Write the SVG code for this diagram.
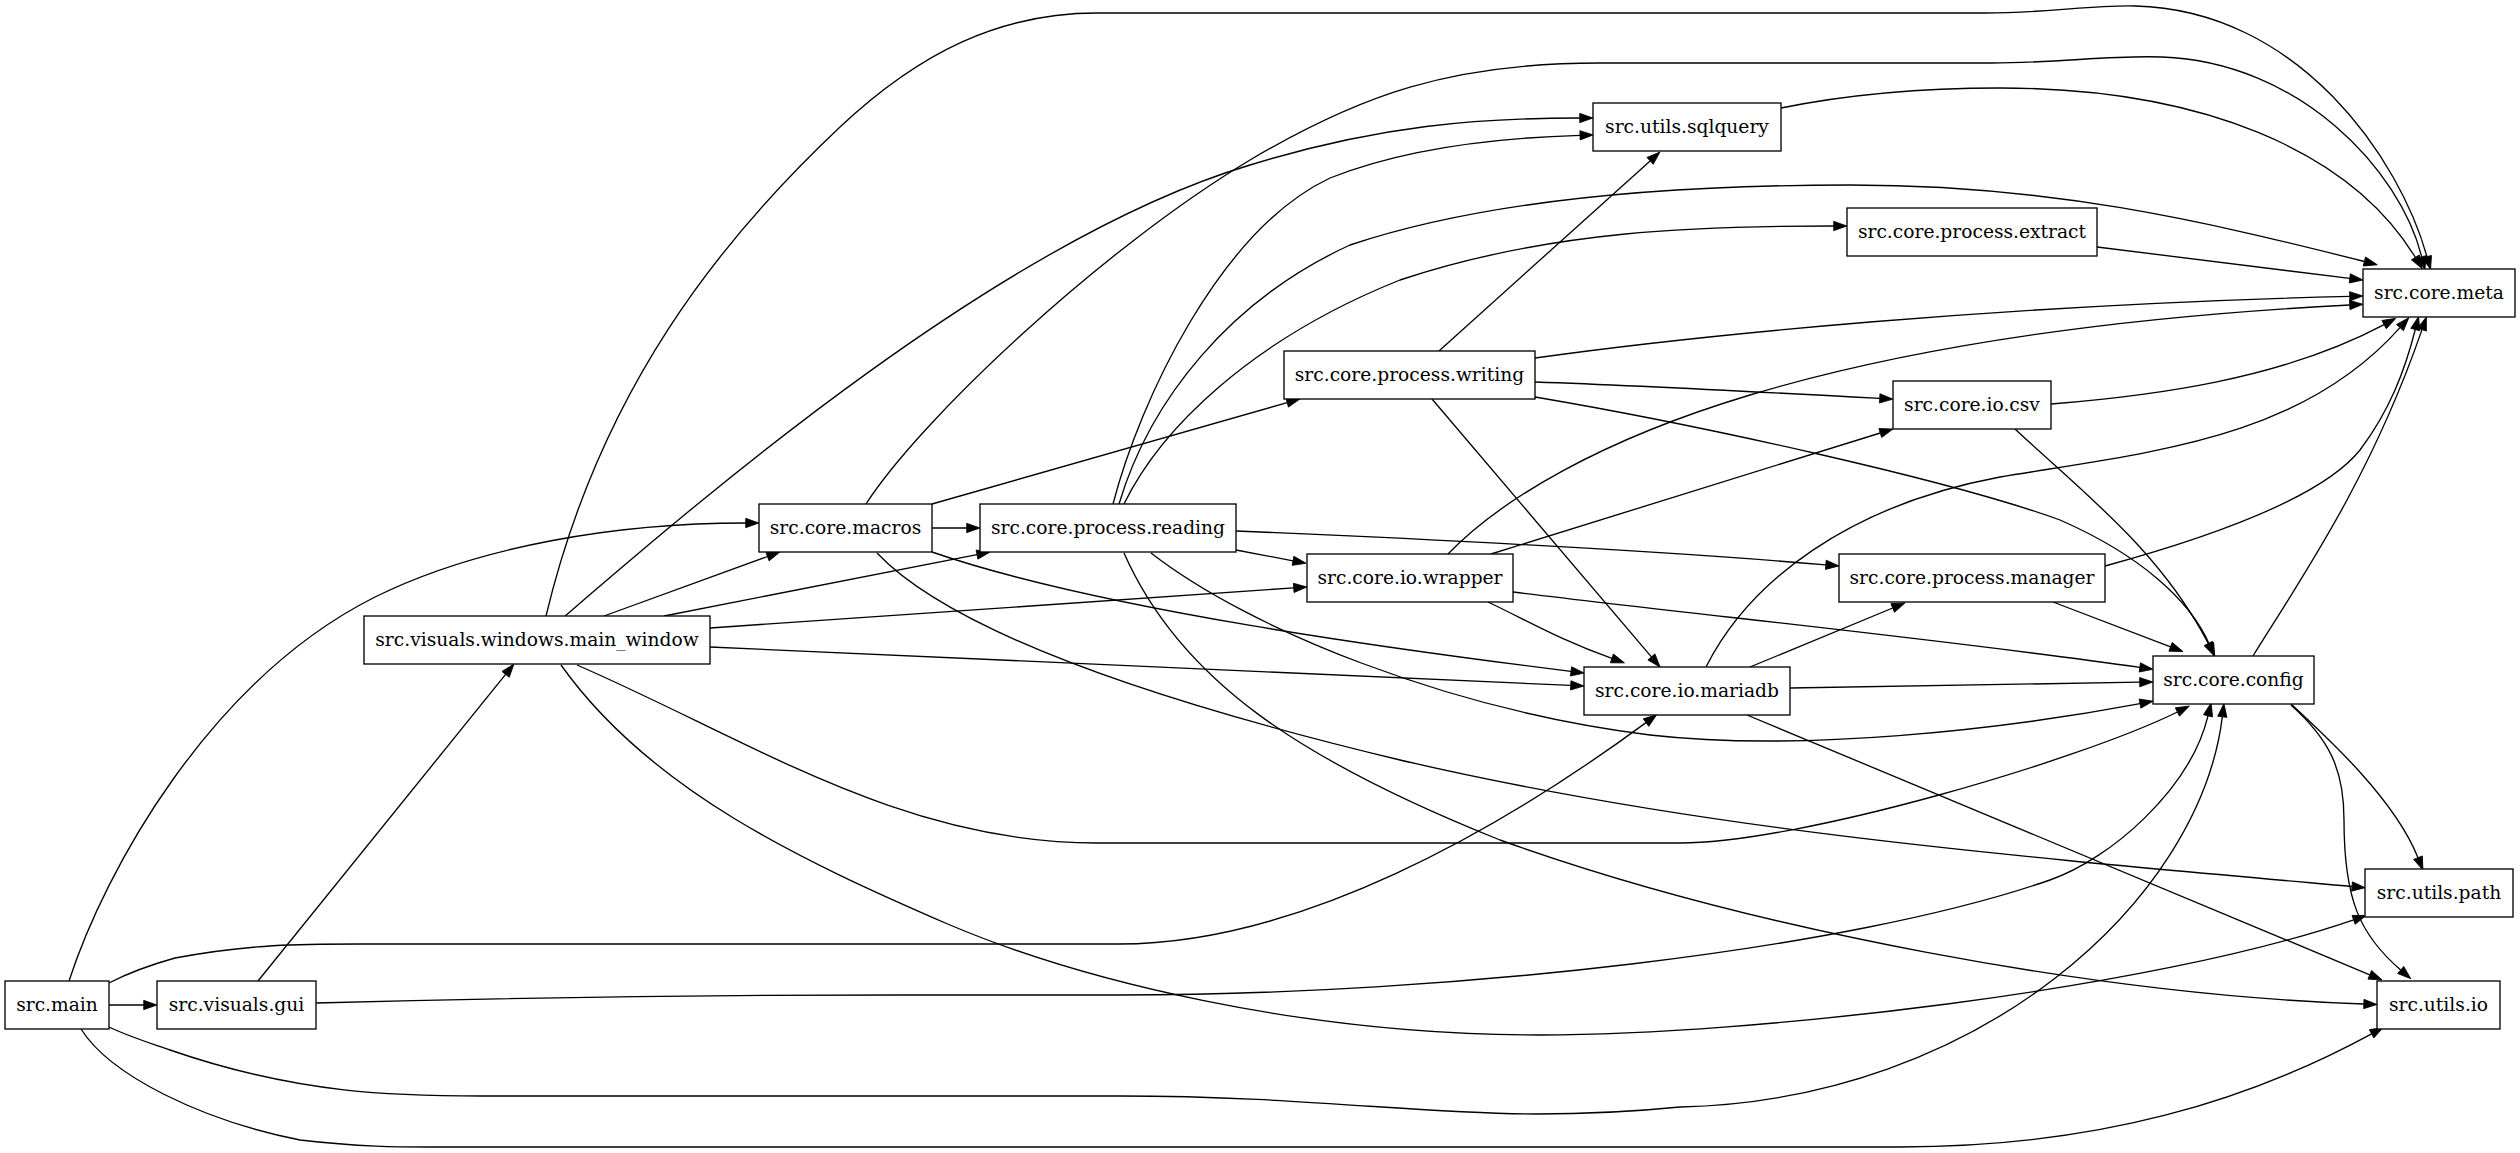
<svg xmlns="http://www.w3.org/2000/svg" width="2520" height="1153" viewBox="0 0 2520 1153">
<style>
.n rect{fill:#fff;stroke:#000;stroke-width:1.33}
.n text{font-family:"DejaVu Serif",serif;font-size:18.67px;text-anchor:middle;fill:#000}
#edges path{fill:none;stroke:#000;stroke-width:1.33;marker-end:url(#ah)}
</style>
<defs>
<marker id="ah" viewBox="0 0 10 7" refX="0" refY="3.5" markerWidth="10" markerHeight="7" markerUnits="strokeWidth" orient="auto" overflow="visible">
<path d="M0,0 L10,3.5 L0,7 z" fill="#000" stroke="#000" stroke-width="0.6"/>
</marker>
</defs>
<rect width="2520" height="1153" fill="#fff"/>
<g id="edges">
<path d="M109,1005 L143.7,1005"/>
<path d="M69,981 C105,870 210,680 375,597 C480,545 620,523 745.7,523"/>
<path d="M109,983 C130,972 150,965 175,958 C250,944 300,944 360,944 L1119,944 C1300,944 1500,830 1646,722.6"/>
<path d="M109,1027 C130,1037 150,1043 170,1050 C300,1095 400,1096 482,1096 L1119,1096 C1300,1096 1420,1114 1536,1114 C1600,1114 1640,1111 1680,1107 C1980,1100 2200,900 2222.3,716.8"/>
<path d="M81,1029 C110,1075 200,1120 300,1140 C360,1147 400,1147 429,1147 L1900,1147 C2100,1147 2250,1100 2371.6,1033.8"/>
<path d="M258,981 L505.6,674.4"/>
<path d="M316,1003 C500,998 700,995 900,995 L1119,995 C1450,995 1850,950 2050,880 C2110,859 2190,790 2208,715.8"/>
<path d="M546,616 C600,390 720,240 840,127 C920,52 1000,13 1097,13 L1985,13 C2050,13 2090,5 2135,6 C2300,10 2400,160 2427,256.7"/>
<path d="M565,616 C700,500 1000,240 1250,165 C1380,125 1480,118 1579.7,118"/>
<path d="M604,616 L767.5,556.5"/>
<path d="M664,616 L977,554.6"/>
<path d="M710,628 L1293.7,587.9"/>
<path d="M710,647 L1570.7,685.4"/>
<path d="M577,665 C750,740 900,843 1097,843 L1680,843 C1800,843 2080,760 2177.4,712"/>
<path d="M561,665 C650,790 800,860 950,925 C1080,980 1300,1035 1540,1035 C1750,1035 2150,990 2353.6,919.8"/>
<path d="M866,504 C920,420 1100,250 1250,160 C1360,95 1450,63 1600,63 L1991,63 C2060,63 2110,55 2162,57 C2300,62 2400,170 2421.7,256.8"/>
<path d="M932,528 L966.7,528"/>
<path d="M932,504 L1287.2,402.6"/>
<path d="M932,552 C1100,610 1400,650 1571,671.4"/>
<path d="M877,553 C950,630 1150,700 1400,760 C1700,830 2000,855 2352,886.5"/>
<path d="M1113,504 C1140,400 1220,230 1330,178 C1400,150 1490,138 1580,135.3"/>
<path d="M1119,504 C1150,400 1230,300 1350,245 C1500,195 1700,185 1850,185 C2050,185 2200,220 2364.4,261.5"/>
<path d="M1124,504 C1160,430 1250,340 1400,280 C1550,230 1700,226 1833.7,226"/>
<path d="M1236,550 L1293,560.8"/>
<path d="M1236,531 C1450,540 1650,550 1825.8,564.8"/>
<path d="M1151,553 C1250,630 1450,710 1650,735 C1800,752 2000,730 2140,703.6"/>
<path d="M1124,553 C1180,680 1300,760 1500,840 C1750,930 2100,995 2363.8,1004"/>
<path d="M1439,351 L1650.1,160.9"/>
<path d="M1535,358 C1700,335 2000,305 2349.7,296.3"/>
<path d="M1535,382 C1650,386 1780,393 1879.7,398.4"/>
<path d="M1432,399 L1651.4,656.9"/>
<path d="M1535,397 C1700,425 1950,480 2060,520 C2140,555 2190,600 2209.4,644.4"/>
<path d="M2097,247 L2349.8,278.4"/>
<path d="M1781,108 C1870,90 1950,88 2000,88 C2200,88 2350,150 2415.4,257.4"/>
<path d="M1448,554 C1500,500 1600,440 1750,395 C1900,350 2100,318 2349.7,305"/>
<path d="M1491,554 L1880.3,433"/>
<path d="M1488,602 C1530,622 1560,640 1611.9,658.4"/>
<path d="M1513,592 C1700,615 1950,640 2139.8,667.4"/>
<path d="M2051,404 C2150,396 2280,380 2384.1,324.6"/>
<path d="M2015,429 C2080,490 2160,550 2208.3,643.5"/>
<path d="M1706,667 C1750,580 1850,505 2000,477 C2150,452 2300,440 2400,327.6"/>
<path d="M1750,667 L1892.7,608"/>
<path d="M1790,688 L2139.7,682.2"/>
<path d="M1747,715 L2369.8,974.8"/>
<path d="M2105,566 C2200,540 2320,500 2360,450 C2390,410 2405,370 2415.3,329.5"/>
<path d="M2053,602 C2100,620 2140,635 2170.6,646.8"/>
<path d="M2253,656 C2300,580 2370,480 2422,329.6"/>
<path d="M2291,704 C2330,740 2395,800 2418,857.7"/>
<path d="M2291,705 C2330,740 2344,770 2344,820 C2344,900 2360,935 2400.7,970"/>
</g>
<g id="n-main" class="n"><rect x="5" y="981" width="104" height="48"/><text x="57" y="1010.5">src.main</text></g>
<g id="n-gui" class="n"><rect x="157" y="981" width="159" height="48"/><text x="236.5" y="1010.5">src.visuals.gui</text></g>
<g id="n-main_window" class="n"><rect x="364" y="616" width="346" height="48"/><text x="537" y="645.5">src.visuals.windows.main_window</text></g>
<g id="n-macros" class="n"><rect x="759" y="504" width="173" height="48"/><text x="845.5" y="533.5">src.core.macros</text></g>
<g id="n-reading" class="n"><rect x="980" y="504" width="256" height="48"/><text x="1108" y="533.5">src.core.process.reading</text></g>
<g id="n-wrapper" class="n"><rect x="1307" y="554" width="206" height="48"/><text x="1410" y="583.5">src.core.io.wrapper</text></g>
<g id="n-mariadb" class="n"><rect x="1584" y="667" width="206" height="48"/><text x="1687" y="696.5">src.core.io.mariadb</text></g>
<g id="n-writing" class="n"><rect x="1284" y="351" width="251" height="48"/><text x="1409.5" y="380.5">src.core.process.writing</text></g>
<g id="n-sqlquery" class="n"><rect x="1593" y="103" width="188" height="48"/><text x="1687" y="132.5">src.utils.sqlquery</text></g>
<g id="n-extract" class="n"><rect x="1847" y="208" width="250" height="48"/><text x="1972" y="237.5">src.core.process.extract</text></g>
<g id="n-meta" class="n"><rect x="2363" y="269" width="152" height="48"/><text x="2439" y="298.5">src.core.meta</text></g>
<g id="n-csv" class="n"><rect x="1893" y="381" width="158" height="48"/><text x="1972" y="410.5">src.core.io.csv</text></g>
<g id="n-manager" class="n"><rect x="1839" y="554" width="266" height="48"/><text x="1972" y="583.5">src.core.process.manager</text></g>
<g id="n-config" class="n"><rect x="2153" y="656" width="161" height="48"/><text x="2233.5" y="685.5">src.core.config</text></g>
<g id="n-path" class="n"><rect x="2365" y="869" width="148" height="48"/><text x="2439" y="898.5">src.utils.path</text></g>
<g id="n-uio" class="n"><rect x="2377" y="981" width="123" height="48"/><text x="2438.5" y="1010.5">src.utils.io</text></g>
</svg>
